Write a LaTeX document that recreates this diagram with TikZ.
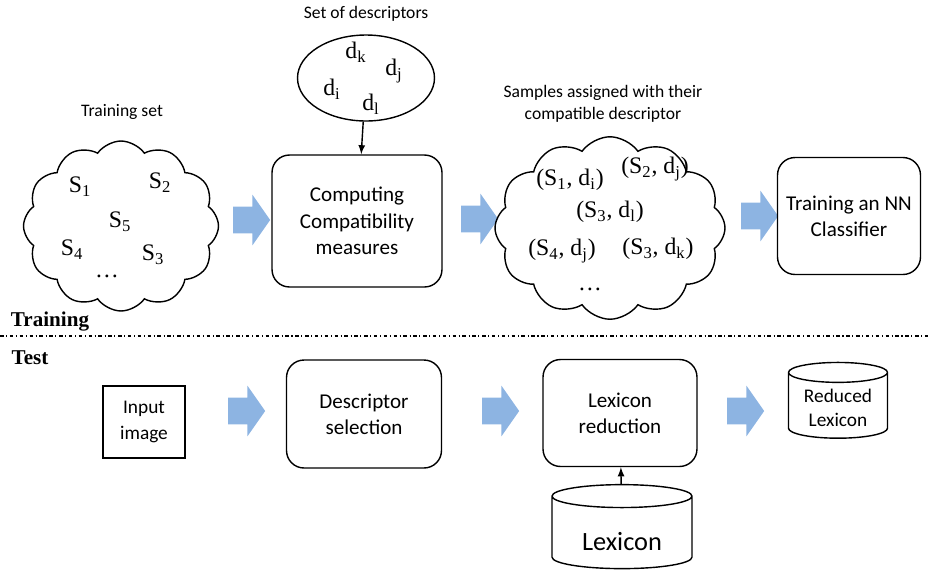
\documentclass[tikz,border=0pt]{standalone}
\usepackage{fontspec}
\setmainfont{Carlito}
\newfontfamily\lblfont{Liberation Serif}
\usetikzlibrary{positioning, shapes.geometric, shapes.symbols, shapes.arrows}
\definecolor{arrowblue}{RGB}{141,180,226}

\begin{document}
\begin{tikzpicture}[x=0.02cm,y=-0.02cm,align=center,node distance=0.2cm]
\tikzstyle{stage}=[draw=black,thick,rounded corners=0.35cm,font=\fontsize{12}{15}\selectfont]
\tikzstyle{plain}=[draw=black,thick,font=\fontsize{11}{15}\selectfont]
\tikzstyle{flow}=[single arrow,fill=arrowblue,draw=none,minimum height=0.74cm,inner xsep=0pt,inner ysep=0.26cm,single arrow head extend=0.24cm,single arrow tip angle=110]
\tikzstyle{bag}=[cloud,cloud puffs=12,cloud puff arc=110,cloud ignores aspect,draw=black,thick]
\tikzstyle{store}=[cylinder,shape border rotate=90,shape aspect=0.25,draw=black,thick]
\tikzstyle{item}=[font=\lblfont\fontsize{13.5}{15}\selectfont,inner sep=0pt]
\tikzstyle{caption}=[font=\fontsize{10}{13}\selectfont,inner sep=0pt]
\tikzstyle{phase}=[font=\lblfont\bfseries\fontsize{12}{14}\selectfont,inner sep=0pt]
\tikzstyle{link}=[-latex,thick]

\useasboundingbox (0,0) rectangle (931,579);

% training part
\node[bag,minimum width=3.9cm,minimum height=3.4cm] (trainset) at (121,226) {};
\node[caption] (trainsetlabel) at (122,112) {Training set};
\node[item] (s1) at (80,187) {S\textsubscript{1}};
\node[item] (s2) at (160,183) {S\textsubscript{2}};
\node[item] (s5) at (120,222) {S\textsubscript{5}};
\node[item] (s4) at (72,250) {S\textsubscript{4}};
\node[item] (s3) at (153,255) {S\textsubscript{3}};
\node[item] (sdots) at (107,276) {\dots};

\node[ellipse,draw=black,thick,minimum width=2.74cm,minimum height=1.72cm] (descset) at (366,78) {};
\node[caption,above=0.25cm of descset] (descsetlabel) {Set of descriptors};
\node[item] (dk) at (356,52) {d\textsubscript{k}};
\node[item] (dj) at (394,71) {d\textsubscript{j}};
\node[item] (di) at (332,89) {d\textsubscript{i}};
\node[item] (dl) at (371,104) {d\textsubscript{l}};

\node[stage,minimum width=3.4cm,minimum height=2.64cm] (compat) at (357,221) {Computing\\Compatibility\\measures};
\node[flow] (a1) at (247,220) {};
\node[flow] (a2) at (475,219) {};

\node[bag,minimum width=4.6cm,minimum height=3.65cm] (assigned) at (610,228) {};
\node[caption,font=\fontsize{10}{12.5}\selectfont] (assignedlabel) at (603,104) {Samples assigned with their\\compatible descriptor};
\node[item] (p1) at (570,180) {(S\textsubscript{1}, d\textsubscript{i})};
\node[item] (p2) at (655,169) {(S\textsubscript{2}, d\textsubscript{j})};
\node[item] (p3) at (610,212) {(S\textsubscript{3}, d\textsubscript{l})};
\node[item] (p4) at (562,251) {(S\textsubscript{4}, d\textsubscript{j})};
\node[item] (p5) at (658,249) {(S\textsubscript{3}, d\textsubscript{k})};
\node[item] (pdots) at (590,289) {\dots};

\node[flow] (a3) at (755,216) {};
\node[stage,minimum width=2.86cm,minimum height=2.34cm] (nn) at (849,216) {Training an NN\\Classifier};

\draw[link] (descset) -- (compat);

% separation
\node[phase] (training) at (50,322) {Training};
\draw[thick,dash pattern=on 2pt off 1.5pt on 0.6pt off 1.5pt] (0,336) -- (931,336);
\node[phase] (test) at (30,358) {Test};

% test part
\node[plain,minimum width=1.64cm,minimum height=1.44cm] (input) at (144,422) {Input\\image};
\node[flow] (a4) at (242,411) {};
\node[stage,minimum width=3.1cm,minimum height=2.16cm] (select) at (364,414) {Descriptor\\selection};
\node[flow] (a5) at (496,411) {};
\node[stage,minimum width=3.08cm,minimum height=2.14cm] (reduce) at (620,413) {Lexicon\\reduction};
\node[flow] (a6) at (741,411) {};
\node[store,minimum width=1.98cm,minimum height=1.46cm,font=\fontsize{11}{14}\selectfont] (reduced) at (838,408) {Reduced\\Lexicon};
\node[store,minimum width=2.8cm,minimum height=1.68cm,font=\fontsize{15}{18}\selectfont] (lexicon) at (622,535) {\\Lexicon};

\draw[link] (lexicon) -- (reduce);
\end{tikzpicture}
\end{document}
